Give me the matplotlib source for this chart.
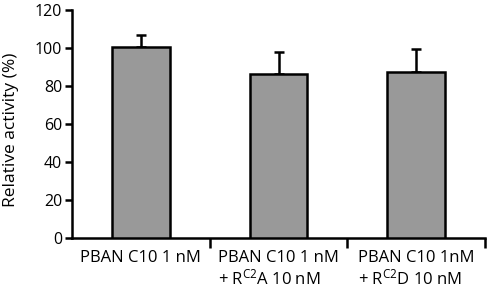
import matplotlib
matplotlib.use("Agg")
import matplotlib.pyplot as plt
import numpy as np

categories = ["PBAN C10 1 nM",
              "PBAN C10 1 nM\n+ R$^{\\mathregular{C2}}$A 10 nM",
              "PBAN C10 1nM\n+ R$^{\\mathregular{C2}}$D 10 nM"]
values = [100.5, 86.5, 87.2]
errors = [6.3, 11.4, 12.2]
yticks = [0, 20, 40, 60, 80, 100, 120]

plt.rcParams['font.family'] = ['Open Sans', 'DejaVu Sans']
plt.rcParams['mathtext.fontset'] = 'custom'
plt.rcParams['mathtext.rm'] = 'Open Sans'
plt.rcParams['mathtext.default'] = 'regular'

fig = plt.figure(figsize=(4.9, 2.92), dpi=100)
ax = fig.add_axes([72/490, 1-238/292, (485-72)/490, (238-10)/292])

x = np.arange(len(categories))
ax.bar(x, values, width=0.42, color='#999999', edgecolor='black', linewidth=1.8, zorder=3)
ax.errorbar(x, values, yerr=[np.zeros(3), errors], fmt='none', ecolor='black',
            elinewidth=1.8, capsize=3.5, capthick=1.8, zorder=2)

ax.set_xlim(-0.5, 2.5)
ax.set_ylim(0, 120)
ax.set_yticks(yticks)
ax.set_yticklabels([str(t) for t in yticks], fontsize=11.5)
ax.set_xticks(x)
ax.set_xticklabels(categories, fontsize=12, ha='center', multialignment='left',
                   linespacing=1.1)
ax.tick_params(axis='x', length=0, pad=9)
ax.set_xticks([0.5, 1.5, 2.5], minor=True)
ax.tick_params(axis='x', which='minor', length=7, width=1.8, direction='out')
ax.tick_params(axis='y', length=5, width=1.8, direction='out', pad=2)
for s in ['top', 'right']:
    ax.spines[s].set_visible(False)
for s in ['left', 'bottom']:
    ax.spines[s].set_linewidth(1.8)
ax.set_ylabel('Relative activity (%)', fontsize=12.5)
ax.yaxis.set_label_coords((19 - 72) / 413, (238 - 130) / 228)

fig.savefig('out.png', dpi=100)
